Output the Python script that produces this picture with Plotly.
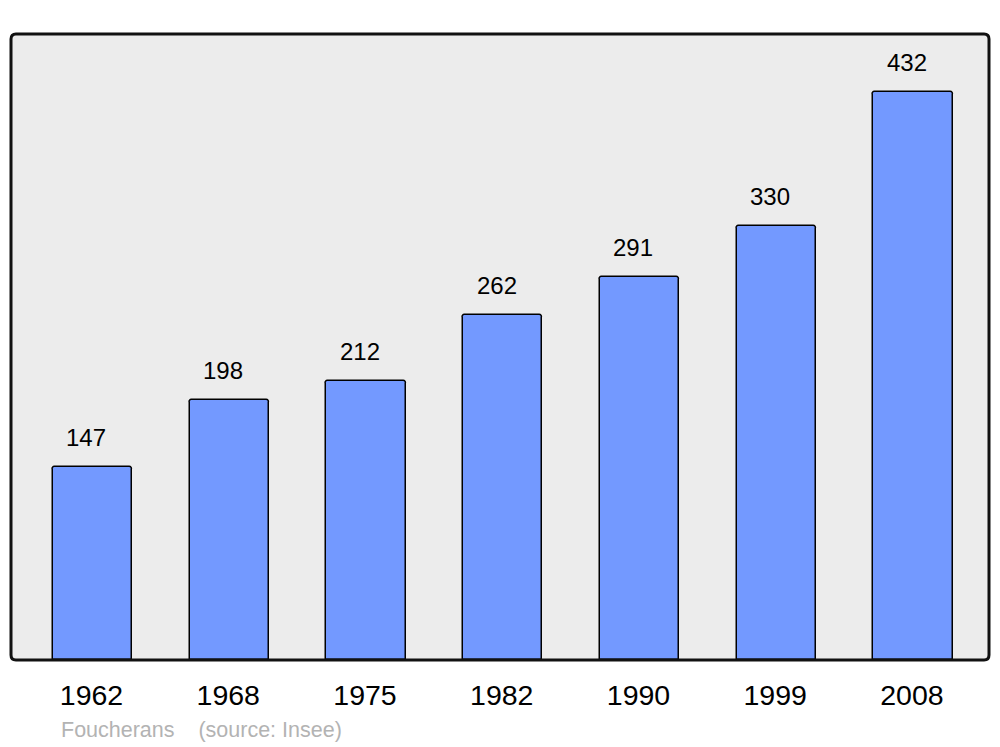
import plotly.graph_objects as go

years = ["1962", "1968", "1975", "1982", "1990", "1999", "2008"]
population = [147, 198, 212, 262, 291, 330, 432]
source_text = "Foucherans    (source: Insee)"

fig = go.Figure()
fig.add_trace(go.Bar(
    x=list(range(len(years))), y=population, width=0.58,
    marker=dict(color="#7399ff", line=dict(color="#000000", width=1.5), cornerradius=3),
    hoverinfo="skip",
))

for i, v in enumerate(population):
    fig.add_annotation(x=i - 0.045, y=v, text=str(v), showarrow=False,
                       yanchor="bottom", yshift=14,
                       font=dict(family="Liberation Sans, Arial", size=24, color="#000"))

fig.add_annotation(xref="paper", yref="paper", x=0.049, y=-0.0894, xanchor="left", yanchor="top",
                   text=source_text.replace(" ", "&nbsp;"), showarrow=False,
                   font=dict(family="Liberation Sans, Arial", size=21.5, color="#b3b3b3"))

rx, ry = 0.005, 0.008
path = (f"M {rx},0 L {1-rx},0 Q 1,0 1,{ry} L 1,{1-ry} Q 1,1 {1-rx},1 "
        f"L {rx},1 Q 0,1 0,{1-ry} L 0,{ry} Q 0,0 {rx},0 Z")
fig.add_shape(type="path", xref="paper", yref="paper", path=path,
              line=dict(color="#111111", width=3), layer="above")

fig.update_layout(
    width=992, height=739,
    margin=dict(l=3, r=11, t=26, b=87),
    paper_bgcolor="#ffffff", plot_bgcolor="#ececec",
    showlegend=False, bargap=0,
    xaxis=dict(range=[-0.596, 6.556], tickmode="array", tickvals=list(range(len(years))),
               ticktext=years, showgrid=False, zeroline=False, ticks="",
               ticklabelstandoff=15, ticklabelshift=-1,
               tickfont=dict(family="Liberation Sans, Arial", size=28.5, color="#000")),
    yaxis=dict(range=[0, 476], showgrid=False, zeroline=False, showticklabels=False, ticks=""),
)

fig.write_html("out.html")
